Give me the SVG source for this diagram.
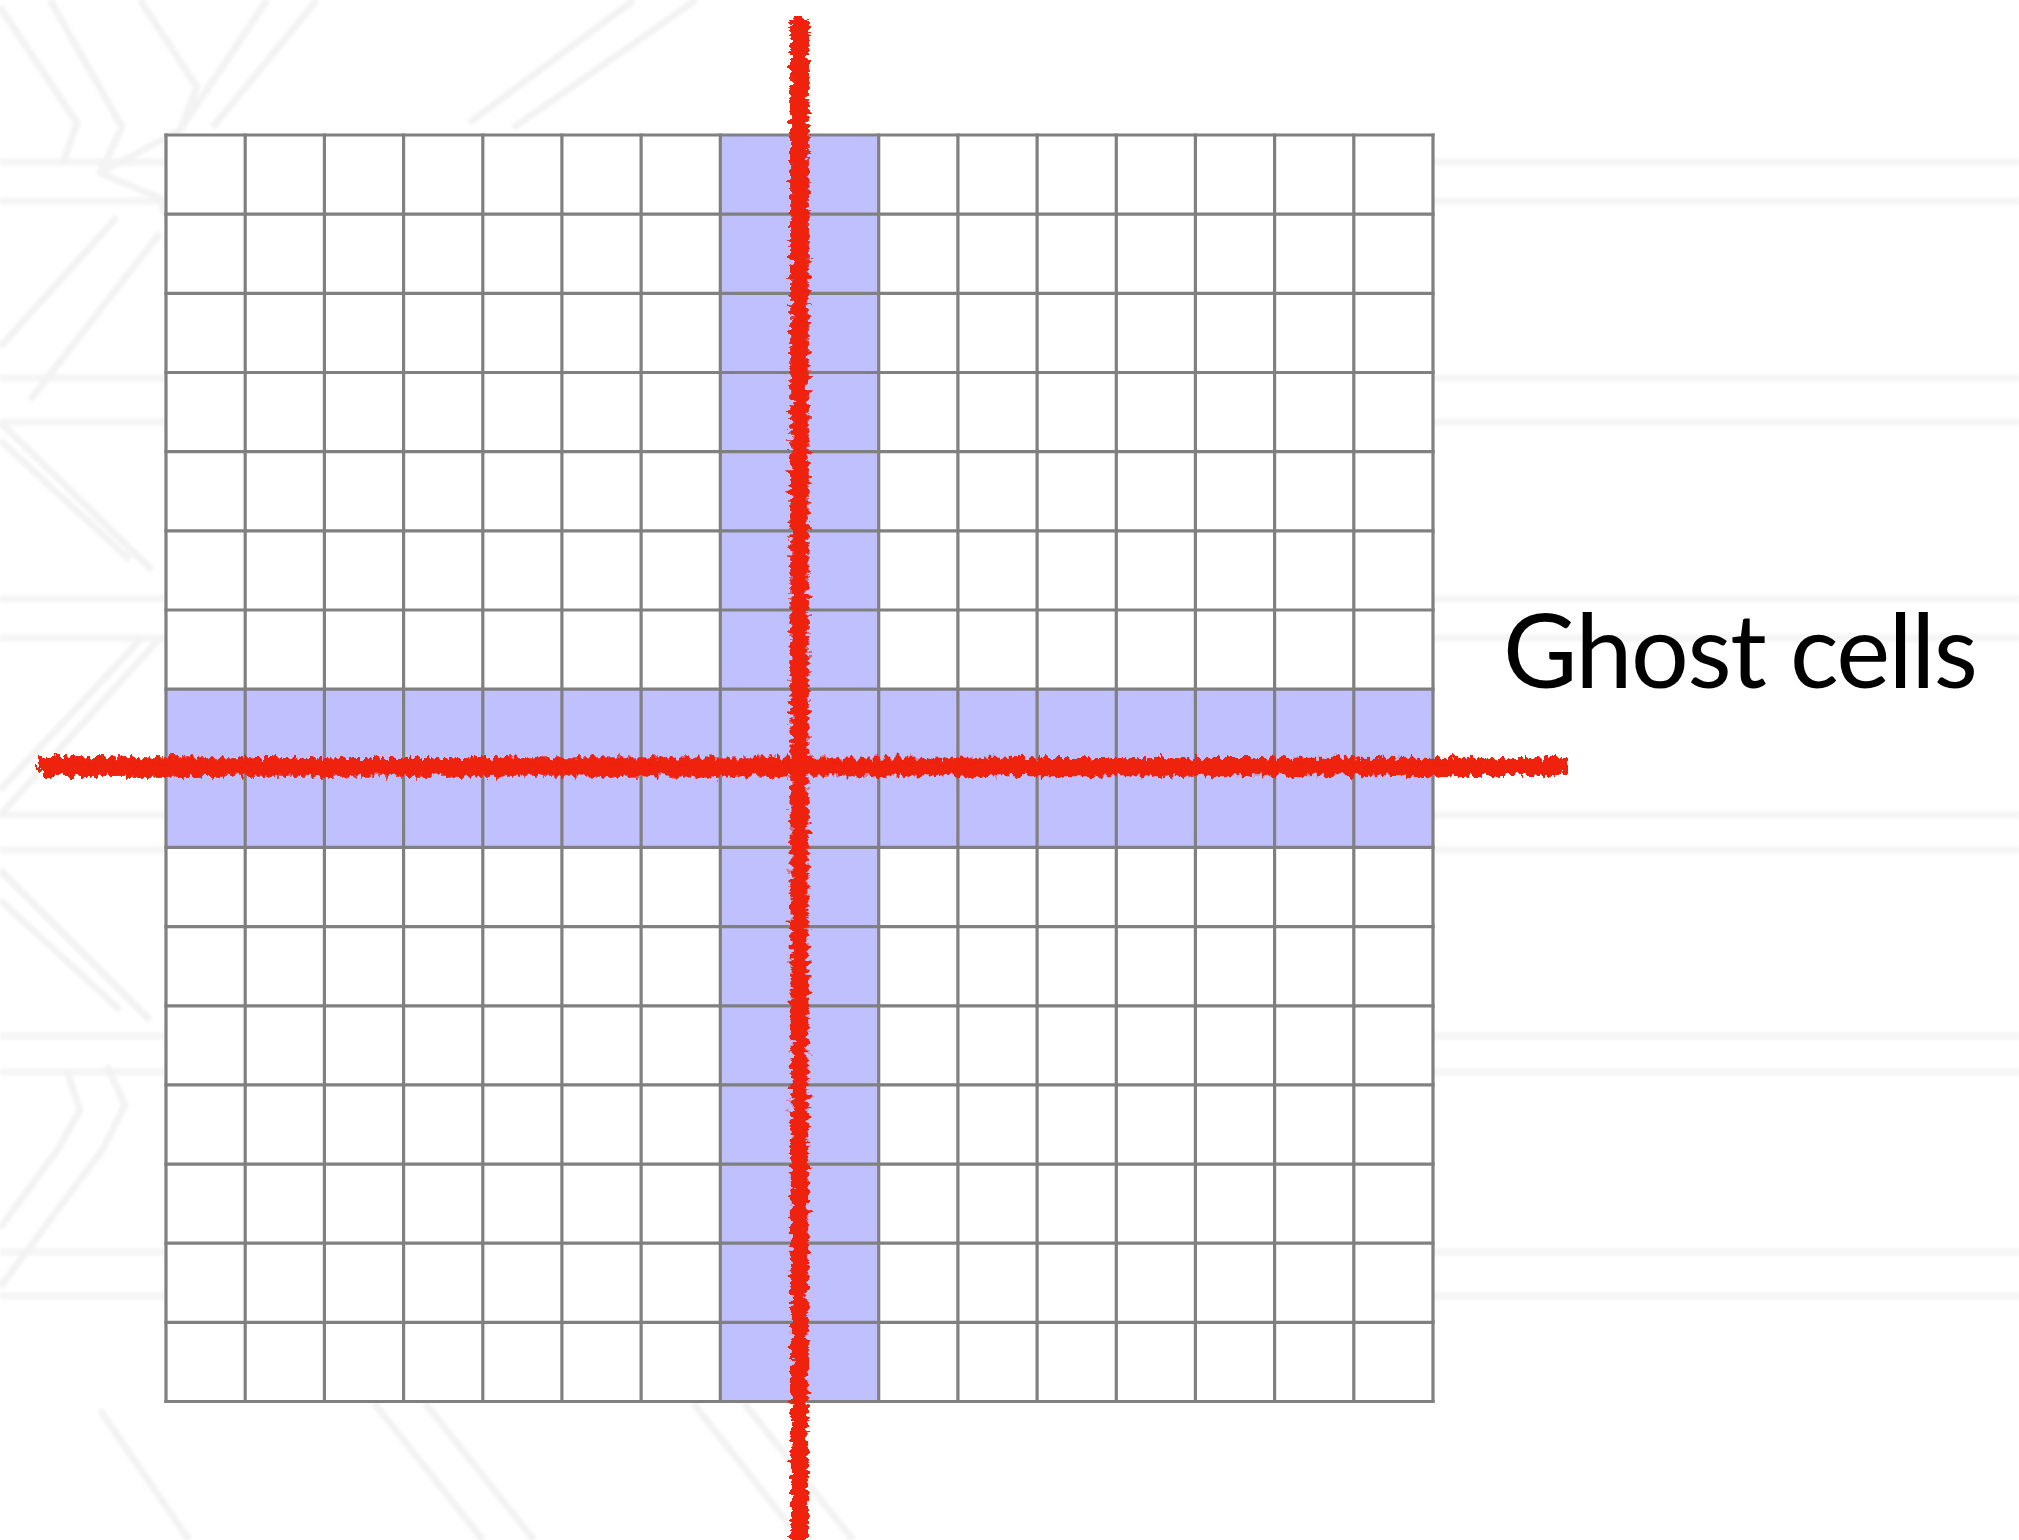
<svg xmlns="http://www.w3.org/2000/svg" width="2019" height="1540" viewBox="0 0 2019 1540">
<defs>
<style>
.bg{fill:none;stroke:#f3f3f3;stroke-width:7;stroke-linejoin:round}
.band{fill:none;stroke:#f4f4f4;stroke-width:7}
.grid{fill:none;stroke:#808080;stroke-width:3.2;stroke-linecap:square}
.ghost{fill:#c0c0ff}
.red{fill:none;stroke:#ee200e;stroke-linecap:butt}
.label{font-family:Lato,"Open Sans","Liberation Sans",sans-serif;font-size:102px;fill:#000}
</style>
<filter id="soft" x="-10%" y="-10%" width="120%" height="120%">
<feGaussianBlur stdDeviation="1.5"/>
</filter>
<filter id="roughH" filterUnits="userSpaceOnUse" x="0" y="0" width="2019" height="1540">
<feTurbulence type="fractalNoise" baseFrequency="0.2 0.1" numOctaves="3" seed="4" result="n"/>
<feDisplacementMap in="SourceGraphic" in2="n" scale="13" xChannelSelector="R" yChannelSelector="G"/>
</filter>
<filter id="roughV" filterUnits="userSpaceOnUse" x="0" y="0" width="2019" height="1540">
<feTurbulence type="fractalNoise" baseFrequency="0.1 0.2" numOctaves="3" seed="9" result="n"/>
<feDisplacementMap in="SourceGraphic" in2="n" scale="13" xChannelSelector="R" yChannelSelector="G"/>
</filter>
</defs>
<rect width="2019" height="1540" fill="#fff"/>
<g id="background" filter="url(#soft)">
<path class="band" d="M0 162H2019M0 201H2019M0 378H2019M0 422H2019M0 599H2019M0 638H2019M0 815H2019M0 850H2019M0 1036H2019M0 1072H2019M0 1252H2019M0 1296H2019"/>
<path class="bg" d="M0 7L77 123L63 163"/>
<path class="bg" d="M50 0L122 127L100 173L160 198L165 215"/>
<path class="bg" d="M140 0L197 87L180 130L100 173"/>
<path class="bg" d="M180 130L267 0M213 127L317 0"/>
<path class="bg" d="M469 123L634 0M513 128L696 0"/>
<path class="bg" d="M0 347L117 217M30 400L160 233"/>
<path class="bg" d="M0 422L152 570M0 440L130 560"/>
<path class="bg" d="M0 815L160 638M0 790L140 640"/>
<path class="bg" d="M0 870L150 1020M0 900L120 1010"/>
<path class="bg" d="M67 1071L80 1110L58 1149L0 1228M107 1066L125 1105L103 1149L0 1287"/>
<path class="bg" d="M100 1410L189 1540M374 1403L483 1540M425 1403L534 1540M693 1403L801 1540M744 1403L853 1540"/>
</g>
<g id="grid">
<rect x="166" y="135" width="1267" height="1266.5" fill="#fff"/>
<g id="ghost-cells">
<rect class="ghost" x="720.3" y="135" width="158.4" height="1266.5"/>
<rect class="ghost" x="166" y="689.1" width="1267" height="158.3"/>
</g>
<path class="grid" d="M166 135V1401.5M245.2 135V1401.5M324.4 135V1401.5M403.6 135V1401.5M482.8 135V1401.5M561.9 135V1401.5M641.1 135V1401.5M720.3 135V1401.5M799.5 135V1401.5M878.7 135V1401.5M957.9 135V1401.5M1037.1 135V1401.5M1116.3 135V1401.5M1195.4 135V1401.5M1274.6 135V1401.5M1353.8 135V1401.5M1433 135V1401.5"/>
<path class="grid" d="M166 135H1433M166 214.2H1433M166 293.3H1433M166 372.5H1433M166 451.6H1433M166 530.8H1433M166 610H1433M166 689.1H1433M166 768.3H1433M166 847.4H1433M166 926.6H1433M166 1005.8H1433M166 1084.9H1433M166 1164.1H1433M166 1243.2H1433M166 1322.4H1433M166 1401.5H1433"/>
</g>
<g id="connectors">
<g filter="url(#roughH)">
<path class="red" stroke-width="16" d="M38 765L1566 766"/>
<path class="red" stroke-width="12" d="M42 771L1562 770"/>
</g>
<g filter="url(#roughV)">
<path class="red" stroke-width="16" d="M798 16L799 1545"/>
<path class="red" stroke-width="12" d="M803 20L802 1545"/>
</g>
</g>
<g id="label">
<text class="label" x="1503" y="688" textLength="475">Ghost cells</text>
</g>
</svg>
